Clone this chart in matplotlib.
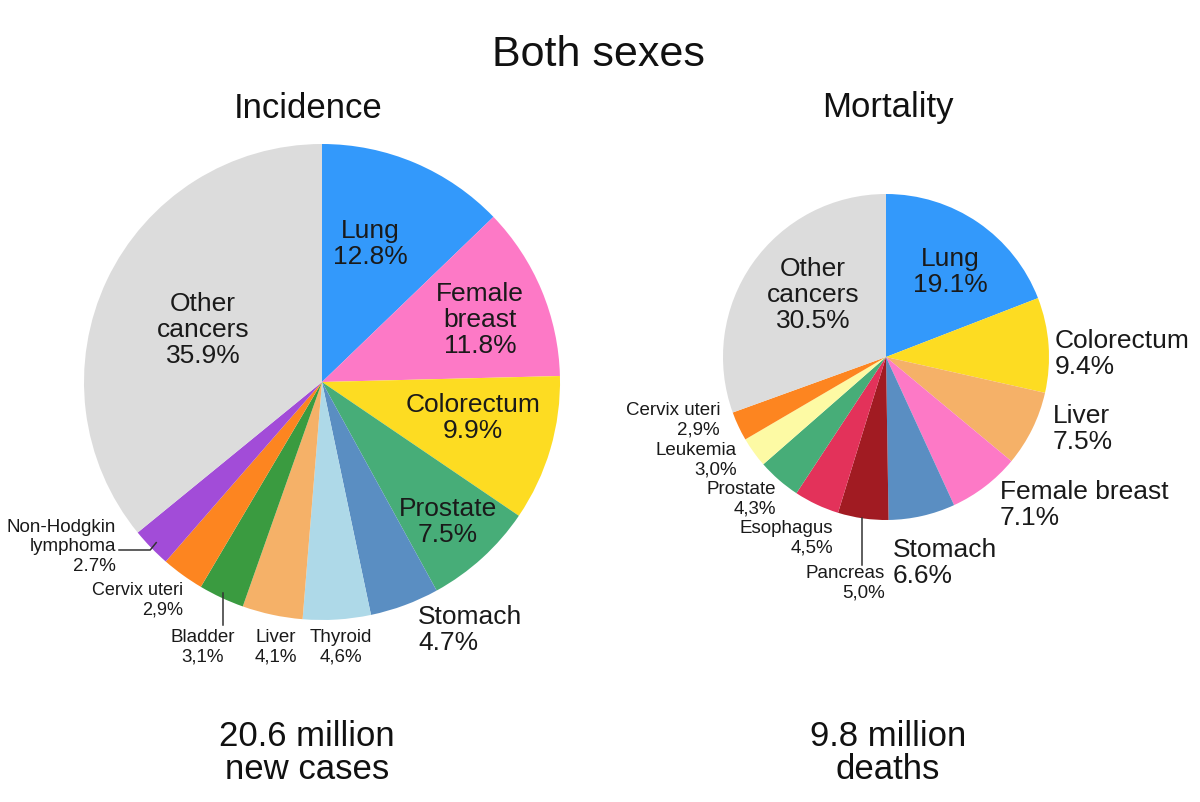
import numpy as np
import matplotlib
matplotlib.use('Agg')
from matplotlib import pyplot as plt

plt.rcParams['font.family'] = ['Liberation Sans', 'DejaVu Sans']

# Incidence (both sexes)
inc_names = ['Lung', 'Female breast', 'Colorectum', 'Prostate', 'Stomach', 'Thyroid',
             'Liver', 'Bladder', 'Cervix uteri', 'Non-Hodgkin lymphoma', 'Other cancers']
inc_values = [12.8, 11.8, 9.9, 7.5, 4.7, 4.6, 4.1, 3.1, 2.9, 2.7, 35.9]
inc_labels = ['Lung\n12.8%', 'Female\nbreast\n11.8%', 'Colorectum\n9.9%', 'Prostate\n7.5%',
              'Stomach\n4.7%', 'Thyroid\n4,6%', 'Liver\n4,1%', 'Bladder\n3,1%',
              'Cervix uteri\n2,9%', 'Non-Hodgkin\nlymphoma\n2.7%', 'Other\ncancers\n35.9%']

# Mortality (both sexes)
mor_names = ['Lung', 'Colorectum', 'Liver', 'Female breast', 'Stomach', 'Pancreas',
             'Esophagus', 'Prostate', 'Leukemia', 'Cervix uteri', 'Other cancers']
mor_values = [19.1, 9.4, 7.5, 7.1, 6.6, 5.0, 4.5, 4.3, 3.0, 2.9, 30.5]
mor_labels = ['Lung\n19.1%', 'Colorectum\n9.4%', 'Liver\n7.5%', 'Female breast\n7.1%',
              'Stomach\n6.6%', 'Pancreas\n5,0%', 'Esophagus\n4,5%', 'Prostate\n4,3%',
              'Leukemia\n3,0%', 'Cervix uteri\n2,9%', 'Other\ncancers\n30.5%']

totals = ['20.6 million\nnew cases', '9.8 million\ndeaths']

colors = {
    'Lung': '#3399fb', 'Female breast': '#fd79c6', 'Colorectum': '#fddc22',
    'Prostate': '#47ad78', 'Stomach': '#5a8ec2', 'Thyroid': '#aed9e8',
    'Liver': '#f5b168', 'Bladder': '#3a9b40', 'Cervix uteri': '#fd8520',
    'Non-Hodgkin lymphoma': '#a24cd8', 'Other cancers': '#dcdcdc',
    'Pancreas': '#a11b22', 'Esophagus': '#e3325a', 'Leukemia': '#fdfaa4',
}

W, H = 1200, 803
TXT = '#1a1a1a'


def py(y):
    # image pixel row -> data y
    return H - y


# label layout in image pixels: (x, y, ha, fontsize)
inc_pos = [(370, 244, 'center', 19), (480, 320, 'center', 19), (473, 418, 'center', 19),
           (448, 522, 'center', 19), (418, 630, 'left', 19), (341, 647, 'center', 13.5),
           (276, 647, 'center', 13.5), (203, 647, 'center', 13.5), (183, 600, 'right', 13),
           (116, 547, 'right', 13.5), (203, 330, 'center', 19)]
mor_pos = [(950, 272, 'center', 19), (1055, 354, 'left', 19), (1053, 429, 'left', 19),
           (1000, 505, 'left', 19), (893, 563, 'left', 19), (885, 583, 'right', 13.5),
           (833, 538, 'right', 13.5), (776, 499, 'right', 13.5), (737, 460, 'right', 13.5),
           (720, 420, 'right', 13.5), (813, 295, 'center', 19)]

fig = plt.figure(figsize=(12, 8.03), dpi=100)
ax = fig.add_axes([0, 0, 1, 1])

inc_c = (322, py(383))
inc_r = 238
mor_c = (886, py(358))
mor_r = 163

ax.pie(inc_values, colors=[colors[n] for n in inc_names], startangle=90,
       counterclock=False, center=inc_c, radius=inc_r,
       wedgeprops=dict(linewidth=0))
ax.pie(mor_values, colors=[colors[n] for n in mor_names], startangle=90,
       counterclock=False, center=mor_c, radius=mor_r,
       wedgeprops=dict(linewidth=0))

for lab, (x, y, ha, fs) in zip(inc_labels + mor_labels, inc_pos + mor_pos):
    ls = 1.12 if fs > 15 else 1.22
    ax.text(x, py(y), lab, ha=ha, va='center', multialignment=ha, fontsize=fs,
            color=TXT, linespacing=ls)


def mid_edge(values, name_list, name, c, r, f=1.0):
    i = name_list.index(name)
    start = 90 - 360 * sum(values[:i]) / sum(values)
    ang = np.deg2rad(start - 180 * values[i] / sum(values))
    return c[0] + f * r * np.cos(ang), c[1] + f * r * np.sin(ang)


# leader lines
bx, by = mid_edge(inc_values, inc_names, 'Bladder', inc_c, inc_r, 0.98)
ax.plot([bx, bx], [by, py(626)], color='#333333', lw=1.1)
nx, ny = mid_edge(inc_values, inc_names, 'Non-Hodgkin lymphoma', inc_c, inc_r, 0.97)
ax.plot([119, nx - 6, nx], [py(551), py(551), ny], color='#333333', lw=1.1)
px_, py_ = mid_edge(mor_values, mor_names, 'Pancreas', mor_c, mor_r, 1.0)
ax.plot([862, 862], [py_, py(566)], color='#333333', lw=1.1)

ax.text(598, py(55), 'Both sexes', ha='center', va='center', fontsize=31, color='#111111')
ax.text(308, py(108), 'Incidence', ha='center', va='center', fontsize=25, color='#111111')
ax.text(888, py(108), 'Mortality', ha='center', va='center', fontsize=25, color='#111111')
ax.text(307, py(753), totals[0], ha='center', va='center', fontsize=25, color='#111111',
        linespacing=1.0)
ax.text(888, py(753), totals[1], ha='center', va='center', fontsize=25, color='#111111',
        linespacing=1.0)

ax.set_xlim(0, W)
ax.set_ylim(0, H)
ax.set_aspect('equal')
ax.axis('off')

fig.savefig('out.png', dpi=100, facecolor='white')
